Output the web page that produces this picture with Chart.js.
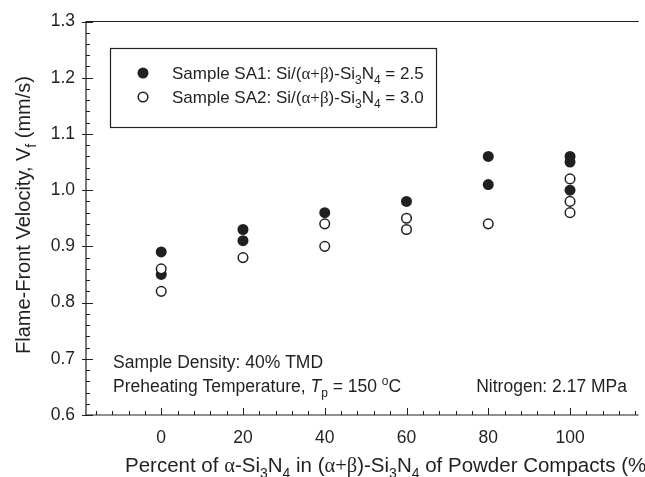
<!DOCTYPE html>
<html>
<head>
<meta charset="utf-8">
<script src="https://cdn.jsdelivr.net/npm/chart.js@4"></script>
<style>
  body { margin: 0; background: #fff; }
  #wrap { width: 645px; height: 477px; }
</style>
</head>
<body>
<div id="wrap"><canvas id="chart" width="645" height="477"></canvas></div>
<script>
// data
const percentSA1 = [0, 0, 20, 20, 40, 60, 80, 80, 100, 100, 100];
const velocitySA1 = [0.89, 0.85, 0.93, 0.91, 0.96, 0.98, 1.06, 1.01, 1.06, 1.05, 1.00];
const percentSA2 = [0, 0, 20, 40, 40, 60, 60, 80, 100, 100, 100];
const velocitySA2 = [0.86, 0.82, 0.88, 0.94, 0.90, 0.95, 0.93, 0.94, 1.02, 0.98, 0.96];
const xTicks = [0, 20, 40, 60, 80, 100];
const yTicks = [0.6, 0.7, 0.8, 0.9, 1.0, 1.1, 1.2, 1.3];

const ink = '#231f20';
const sans = '"Liberation Sans", Arial, sans-serif';
const serif = '"Liberation Serif", "Times New Roman", serif';

function toPoints(xs, ys) {
    var pts = [];
    for (let i = 0; i < xs.length; i++) {
        pts.push({ x: xs[i], y: ys[i] });
    }
    return pts;
}

// text made of pieces: {t, sub, sup, it, gr}
function fontFor(p, size) {
    var s = (p.sub || p.sup) ? Math.round(size * 0.68) : size;
    var fam = p.gr ? serif : sans;
    return (p.it ? 'italic ' : '') + s + 'px ' + fam;
}
function richWidth(ctx, parts, size) {
    var w = 0;
    for (const p of parts) {
        ctx.font = fontFor(p, size);
        w += ctx.measureText(p.t).width;
    }
    return w;
}
function drawRich(ctx, x, y, parts, size, align) {
    var w = richWidth(ctx, parts, size);
    var cx = x;
    if (align === 'center') cx = x - w / 2;
    if (align === 'right') cx = x - w;
    ctx.textBaseline = 'alphabetic';
    ctx.textAlign = 'left';
    for (const p of parts) {
        ctx.font = fontFor(p, size);
        var dy = 0;
        if (p.sub) dy = size * 0.3;
        if (p.sup) dy = -size * 0.42;
        ctx.fillText(p.t, cx, y + dy);
        cx += ctx.measureText(p.t).width;
    }
}

const framePlugin = {
    id: 'frame',
    afterDraw(chart) {
        const ctx = chart.ctx;
        const a = chart.chartArea;
        const xs = chart.scales.x;
        const ys = chart.scales.y;
        ctx.save();
        ctx.strokeStyle = ink;
        ctx.lineWidth = 1.2;
        // axes box (right side is cut off in the original)
        ctx.beginPath();
        ctx.moveTo(a.right, a.top);
        ctx.lineTo(a.left, a.top);
        ctx.lineTo(a.left, a.bottom);
        ctx.lineTo(a.right, a.bottom);
        ctx.stroke();

        // x ticks, inward
        ctx.lineWidth = 1;
        ctx.beginPath();
        for (let v = -16; v <= xs.max; v += 4) {
            const px = Math.round(xs.getPixelForValue(v)) + 0.5;
            const major = v % 20 === 0;
            ctx.moveTo(px, a.bottom);
            ctx.lineTo(px, a.bottom - (major ? 7 : 4));
        }
        // y ticks
        for (let k = 0; k <= 35; k++) {
            const v = 0.6 + k * 0.02;
            const py = Math.round(ys.getPixelForValue(v)) + 0.5;
            const major = k % 5 === 0;
            ctx.moveTo(a.left - (major ? 4 : 0), py);
            ctx.lineTo(a.left + (major ? 7 : 4), py);
        }
        ctx.stroke();

        // legend box
        ctx.lineWidth = 1.2;
        ctx.strokeRect(110.5, 48.5, 326, 79);
        ctx.fillStyle = ink;
        ctx.beginPath();
        ctx.arc(143, 73, 5.5, 0, Math.PI * 2);
        ctx.fill();
        ctx.beginPath();
        ctx.lineWidth = 1.5;
        ctx.arc(143, 97, 4.8, 0, Math.PI * 2);
        ctx.stroke();

        ctx.fillStyle = ink;
        drawRich(ctx, 172, 79, [
            { t: 'Sample SA1: Si/(' }, { t: 'α+β', gr: true }, { t: ')-Si' }, { t: '3', sub: true },
            { t: 'N' }, { t: '4', sub: true }, { t: ' = 2.5' }
        ], 17, 'left');
        drawRich(ctx, 172, 103, [
            { t: 'Sample SA2: Si/(' }, { t: 'α+β', gr: true }, { t: ')-Si' }, { t: '3', sub: true },
            { t: 'N' }, { t: '4', sub: true }, { t: ' = 3.0' }
        ], 17, 'left');

        // notes
        drawRich(ctx, 113, 368, [{ t: 'Sample Density: 40% TMD' }], 17.5, 'left');
        drawRich(ctx, 113, 392, [
            { t: 'Preheating Temperature, ' }, { t: 'T', it: true }, { t: 'p', sub: true },
            { t: ' = 150 ' }, { t: 'o', sup: true }, { t: 'C' }
        ], 17.5, 'left');
        drawRich(ctx, 627, 392, [{ t: 'Nitrogen: 2.17 MPa' }], 17.5, 'right');

        // axis titles
        drawRich(ctx, 125, 472, [
            { t: 'Percent of ' }, { t: 'α', gr: true }, { t: '-Si' }, { t: '3', sub: true }, { t: 'N' },
            { t: '4', sub: true }, { t: ' in (' }, { t: 'α+β', gr: true }, { t: ')-Si' }, { t: '3', sub: true },
            { t: 'N' }, { t: '4', sub: true }, { t: ' of Powder Compacts (%)' }
        ], 20.5, 'left');
        ctx.save();
        ctx.translate(30, 215);
        ctx.rotate(-Math.PI / 2);
        drawRich(ctx, 0, 0, [
            { t: 'Flame-Front Velocity, V' }, { t: 'f', sub: true }, { t: ' (mm/s)' }
        ], 20, 'center');
        ctx.restore();
        ctx.restore();
    }
};

new Chart(document.getElementById('chart'), {
    type: 'scatter',
    data: {
        datasets: [{
            label: 'Sample SA1',
            data: toPoints(percentSA1, velocitySA1),
            pointRadius: 5.5,
            pointBackgroundColor: ink,
            pointBorderColor: ink,
            pointBorderWidth: 0,
            order: 2
        }, {
            label: 'Sample SA2',
            data: toPoints(percentSA2, velocitySA2),
            pointRadius: 4.8,
            pointBackgroundColor: '#fff',
            pointBorderColor: ink,
            pointBorderWidth: 1.5,
            order: 1
        }]
    },
    options: {
        responsive: false,
        animation: false,
        layout: { padding: { top: 20, right: 0, left: 0, bottom: 0 } },
        plugins: { legend: { display: false }, tooltip: { enabled: false } },
        scales: {
            x: {
                type: 'linear',
                min: -18.4,
                max: 116.8,
                afterFit: function (scale) { scale.height = 62; },
                afterBuildTicks: function (scale) { scale.ticks = xTicks.map(v => ({ value: v })); },
                grid: { display: false, drawTicks: false },
                border: { display: false },
                ticks: { padding: 13, color: ink, font: { family: sans, size: 17.5 }, maxRotation: 0 }
            },
            y: {
                type: 'linear',
                min: 0.6,
                max: 1.3,
                afterFit: function (scale) { scale.width = 86; },
                afterBuildTicks: function (scale) { scale.ticks = yTicks.map(v => ({ value: v })); },
                grid: { display: false, drawTicks: false },
                border: { display: false },
                ticks: {
                    padding: 11, color: ink, font: { family: sans, size: 17.5 },
                    callback: function (v) { return Number(v).toFixed(1); }
                }
            }
        }
    },
    plugins: [framePlugin]
});
</script>
</body>
</html>
